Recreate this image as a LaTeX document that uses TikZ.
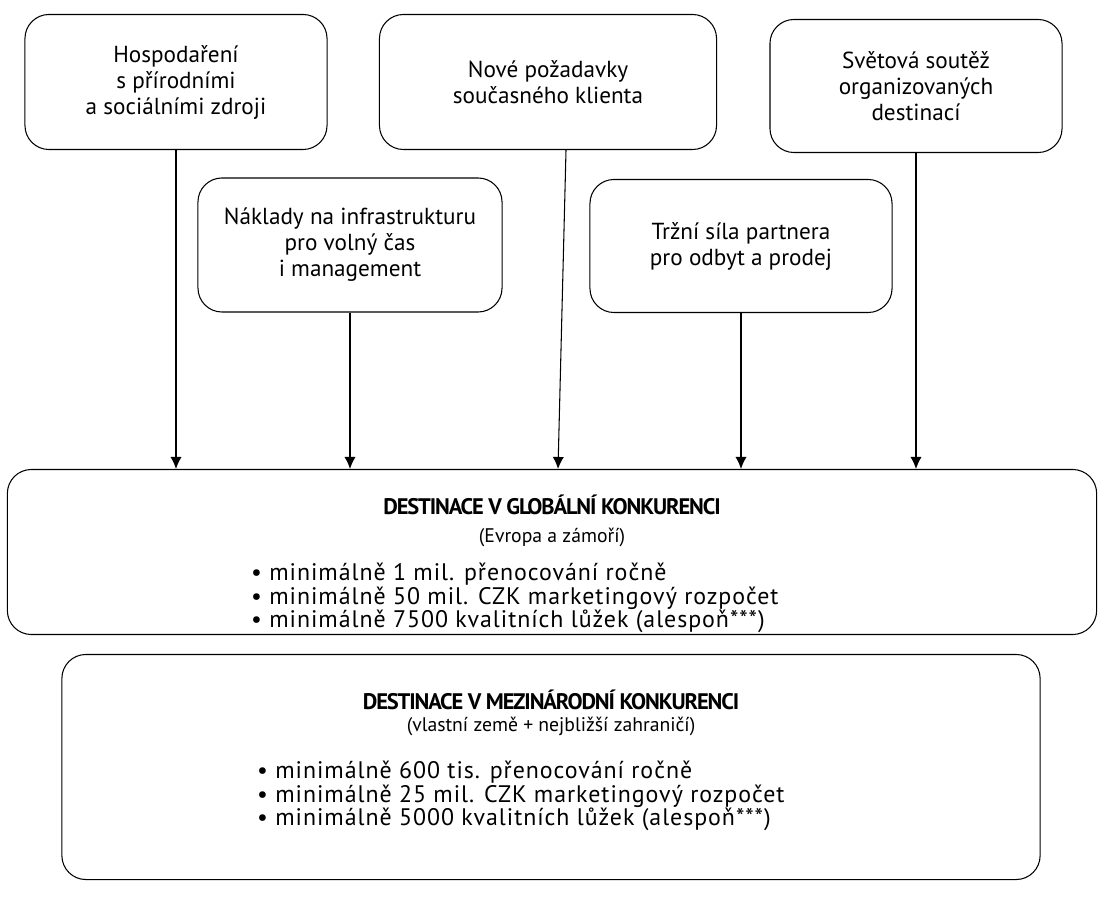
\documentclass[tikz,border=0pt]{standalone}
\usepackage{fontspec}
\setmainfont{PT Sans}
\usetikzlibrary{positioning, arrows.meta}

\begin{document}
\begin{tikzpicture}[-{Latex[length=0.3cm,width=0.28cm]}, x=0.025cm, y=-0.025cm, line width=0.75pt,
            factor/.style ={draw, rounded corners=0.6cm, align=center,
            font=\fontsize{16.5}{18.5}\selectfont},
            dest/.style ={draw, rounded corners=0.6cm},
            title/.style ={font=\fontsize{16}{18}\selectfont\bfseries\addfontfeature{LetterSpace=-5}},
            sub/.style ={font=\fontsize{14}{16}\selectfont},
            list/.style ={align=left, anchor=west, font=\fontsize{17}{16.5}\selectfont\addfontfeature{LetterSpace=4}}]

            \useasboundingbox (0,0) rectangle (1103,898);

            %faktory nahore
            \node[factor, minimum width=7.55cm, minimum height=3.375cm] (hosp) at (176, 82) {Hospodaření\\s přírodními\\a sociálními zdroji};
            \node[factor, minimum width=8.425cm, minimum height=3.375cm] (pozad) at (548, 82) {Nové požadavky\\současného klienta};
            \node[factor, minimum width=7.3cm, minimum height=3.325cm] (soutez) at (916, 86) {Světová soutěž\\organizovaných\\destinací};
            \node[factor, minimum width=7.6cm, minimum height=3.35cm] (naklady) at (350, 245) {Náklady na infrastrukturu\\pro volný čas\\i management};
            \node[factor, minimum width=7.55cm, minimum height=3.325cm] (sila) at (741, 246) {Tržní síla partnera\\pro odbyt a prodej};

            %destinace
            \node[dest, minimum width=27.225cm, minimum height=4.125cm] (glob) at (552, 552) {};
            \node[title] (globT) at (552, 505) {DESTINACE V GLOBÁLNÍ KONKURENCI};
            \node[sub] (globS) at (552, 537) {(Evropa a zámoří)};
            \node[list] (globL) at (246, 598) {• minimálně 1 mil. přenocování ročně\\• minimálně 50 mil. CZK marketingový rozpočet\\• minimálně 7500 kvalitních lůžek (alespoň***)};

            \node[dest, minimum width=24.45cm, minimum height=5.625cm] (mezi) at (551, 767) {};
            \node[title] (meziT) at (551, 700) {DESTINACE V MEZINÁRODNÍ KONKURENCI};
            \node[sub] (meziS) at (551, 726) {(vlastní země + nejbližší zahraničí)};
            \node[list] (meziL) at (252, 796) {• minimálně 600 tis. přenocování ročně\\• minimálně 25 mil. CZK marketingový rozpočet\\• minimálně 5000 kvalitních lůžek (alespoň***)};

            \path (hosp) edge (hosp.south |- glob.north);
            \path (naklady) edge (naklady.south |- glob.north);
            \path ([xshift=0.45cm]pozad.south) edge ([xshift=0.25cm]pozad.south |- glob.north);
            \path (sila) edge (sila.south |- glob.north);
            \path (soutez) edge (soutez.south |- glob.north);
        \end{tikzpicture}
\end{document}
